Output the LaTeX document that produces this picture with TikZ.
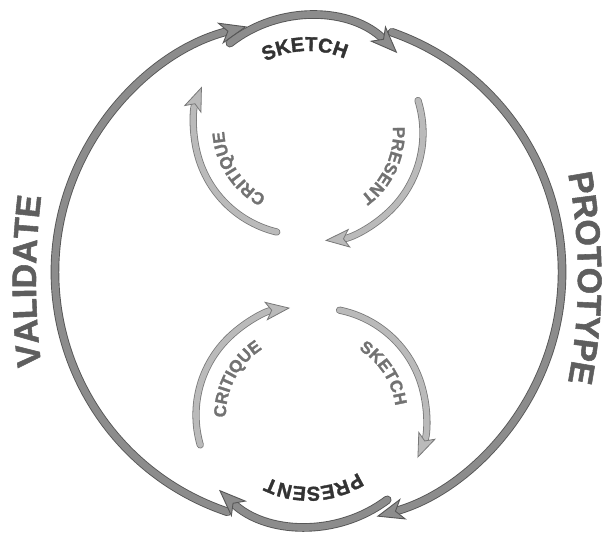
\documentclass[tikz,border=0pt]{standalone}
\usepackage{fontspec}
\setmainfont{Liberation Sans}
\newfontfamily\heavyfont{Liberation Sans}[BoldFeatures={FakeBold=1.6}]
\usetikzlibrary{arrows.meta,calc,decorations.text}

\definecolor{loopgray}{HTML}{8C8C8C}
\definecolor{innergray}{HTML}{BABABA}
\definecolor{edgegray}{HTML}{565656}
\definecolor{labelgray}{HTML}{5E5E5E}
\definecolor{innerlabel}{HTML}{727272}
\definecolor{darklabel}{HTML}{333333}

\tikzset{
 bigarrow/.style={draw=edgegray,double=loopgray,line width=0.9pt,double distance=6.8pt,line cap=round,
  -{Stealth[length=28pt,width=22pt,inset=8pt,fill=loopgray,color=edgegray,line width=0.9pt]}},
 smallarrow/.style={draw=edgegray!80,double=innergray,line width=0.8pt,double distance=5.6pt,line cap=round,
  -{Stealth[length=25pt,width=19pt,inset=6pt,fill=innergray,color=edgegray!80,line width=0.8pt]}},
 arclabel/.style n args={3}{decorate,decoration={text along path,text align=center,
  text color=#3,text={|\heavyfont\bfseries\fontsize{#2}{#2}\selectfont|#1}}}
}

\begin{document}
\begin{tikzpicture}[x=1pt,y=1pt]
\useasboundingbox (0,0) rectangle (610,535);
% centres of the arcs
\coordinate (big) at (308,263);
\coordinate (top) at (308,393);
\coordinate (bot) at (309,139);
\coordinate (ul) at (302,408);
\coordinate (ur) at (315,402);
\coordinate (ll) at (304,120);
\coordinate (lr) at (318,119);
\coordinate (vc) at (724,254);
\coordinate (pc) at (25,257);

% outer loop
\draw[bigarrow] ($(big)+(251.4:253)$) arc[start angle=251.4,end angle=104,radius=253];
\draw[bigarrow] ($(top)+(128.3:126)$) arc[start angle=128.3,end angle=44.9,radius=126];
\draw[bigarrow] ($(big)+(70.7:254)$) arc[start angle=70.7,end angle=-74.3,radius=254];
\draw[bigarrow] ($(bot)+(-53:130)$) arc[start angle=-53,end angle=-133.8,radius=130];

\path[arclabel={SKETCH}{20}{darklabel}] ($(top)+(132:91)$) arc[start angle=132,end angle=52,radius=91];
\path[arclabel={PRESENT}{20}{darklabel}] ($(bot)+(-42:91)$) arc[start angle=-42,end angle=-132,radius=91];
\path[arclabel={VALIDATE}{34}{labelgray}] ($(vc)+(190:688)$) arc[start angle=190,end angle=170,radius=688];
\path[arclabel={PROTOTYPE}{34}{labelgray}] ($(pc)+(15:553)$) arc[start angle=15,end angle=-15,radius=553];

% inner loops
\draw[smallarrow] ($(ul)+(256.5:108)$) arc[start angle=256.5,end angle=158,radius=108];
\draw[smallarrow] ($(ur)+(17.5:108)$) arc[start angle=17.5,end angle=-84.7,radius=108];
\draw[smallarrow] ($(ll)+(196.1:108)$) arc[start angle=196.1,end angle=97.4,radius=108];
\draw[smallarrow] ($(lr)+(78.5:108)$) arc[start angle=78.5,end angle=-22.9,radius=108];

\path[arclabel={CRITIQUE}{17}{innerlabel}] ($(ul)+(253:78)$) arc[start angle=253,end angle=173,radius=78];
\path[arclabel={PRESENT}{17}{innerlabel}] ($(ur)+(15:78)$) arc[start angle=15,end angle=-65,radius=78];
\path[arclabel={CRITIQUE}{17}{innerlabel}] ($(ll)+(192:78)$) arc[start angle=192,end angle=112,radius=78];
\path[arclabel={SKETCH}{17}{innerlabel}] ($(lr)+(73:78)$) arc[start angle=73,end angle=-7,radius=78];
\end{tikzpicture}
\end{document}
